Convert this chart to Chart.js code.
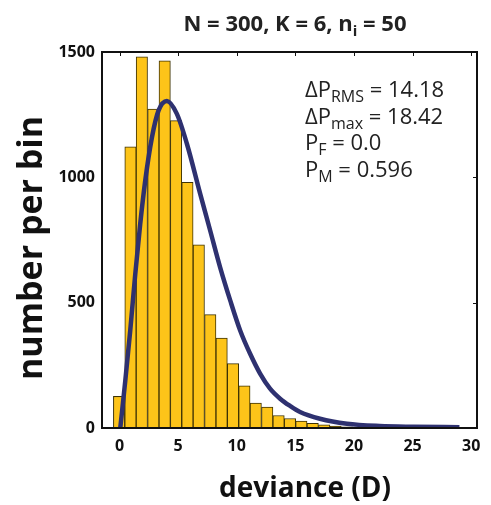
<!DOCTYPE html>
<html>
<head>
<meta charset="utf-8">
<script src="https://cdn.jsdelivr.net/npm/chart.js@4"></script>
<style>
  html, body { margin: 0; padding: 0; background: #fff; }
  #wrap { width: 491px; height: 505px; }
</style>
</head>
<body>
<div id="wrap"><canvas id="devianceChart"></canvas></div>
<script>
// histogram bins (deviance) and counts
const binCenters = [-0.04, 0.93, 1.90, 2.88, 3.85, 4.82, 5.79, 6.76, 7.74, 8.71, 9.68, 10.65,
  11.62, 12.60, 13.57, 14.54, 15.51, 16.48, 17.46, 18.43, 19.40, 20.37, 21.34, 22.32, 23.29];
const binCounts = [126, 1122, 1481, 1272, 1465, 1226, 980, 731, 452, 359, 257, 168,
  99, 83, 50, 38, 28, 19, 13, 8, 5, 3, 2, 1, 1];

// fitted curve
const fitX = [0.06, 0.49, 0.91, 1.34, 1.76, 2.19, 2.76, 3.32, 4.04, 4.89, 5.75, 6.88, 7.73,
  8.58, 9.44, 10.29, 11.14, 11.99, 12.84, 13.7, 14.55, 15.4, 17.1, 19.4, 22.2, 25.1, 29.0];
const fitY = [0, 190, 389, 615, 814, 987, 1159, 1266, 1305, 1253, 1133, 934, 788,
  641, 509, 389, 296, 217, 157, 117, 88, 64, 37, 17, 8, 5, 3];

const xTicks = [0, 5, 10, 15, 20, 25, 30];
const yTicks = [0, 500, 1000, 1500];

const statLines = [
  ["\u0394P", "RMS", " = 14.18"],
  ["\u0394P", "max", " = 18.42"],
  ["P", "F", " = 0.0"],
  ["P", "M", " = 0.596"]
];

const FONT = "'Open Sans', 'DejaVu Sans', sans-serif";

function drawSub(ctx, parts, x, y, mainFont, subFont, drop) {
  ctx.font = mainFont;
  ctx.fillText(parts[0], x, y);
  x += ctx.measureText(parts[0]).width;
  ctx.font = subFont;
  ctx.fillText(parts[1], x, y + drop);
  x += ctx.measureText(parts[1]).width;
  ctx.font = mainFont;
  ctx.fillText(parts[2], x, y);
}

function subWidth(ctx, parts, mainFont, subFont) {
  ctx.font = mainFont;
  let w = ctx.measureText(parts[0]).width + ctx.measureText(parts[2]).width;
  ctx.font = subFont;
  return w + ctx.measureText(parts[1]).width;
}

const frame = {
  id: "frame",
  afterDatasetsDraw(chart) {
    const { ctx, chartArea: a, scales: { x, y } } = chart;
    ctx.save();
    ctx.strokeStyle = "#111";
    ctx.lineWidth = 1;
    ctx.beginPath();
    xTicks.forEach(v => {
      const px = Math.round(x.getPixelForValue(v)) + 0.5;
      ctx.moveTo(px, a.top);
      ctx.lineTo(px, a.top + 4);
    });
    yTicks.forEach(v => {
      const py = Math.round(y.getPixelForValue(v)) + 0.5;
      ctx.moveTo(a.right, py);
      ctx.lineTo(a.right - 4, py);
    });
    ctx.stroke();
    ctx.lineWidth = 2;
    ctx.strokeRect(a.left, a.top, a.right - a.left, a.bottom - a.top);

    // title
    ctx.fillStyle = "#222";
    ctx.textBaseline = "alphabetic";
    ctx.textAlign = "left";
    const tParts = ["N = 300, K = 6, n", "i", " = 50"];
    const tMain = "bold 22px " + FONT, tSub = "bold 15px " + FONT;
    const tw = subWidth(ctx, tParts, tMain, tSub);
    drawSub(ctx, tParts, 295 - tw / 2, 31, tMain, tSub, 5);

    // stats
    const sMain = "22px " + FONT, sSub = "16px " + FONT;
    statLines.forEach((p, i) => {
      drawSub(ctx, p, 305, 97 + i * 26.7, sMain, sSub, 5);
    });

    // axis labels
    ctx.fillStyle = "#111";
    ctx.font = "bold 28px " + FONT;
    ctx.textAlign = "center";
    ctx.textBaseline = "middle";
    ctx.fillText("deviance (D)", 305, 489);
    ctx.save();
    ctx.translate(32, 248);
    ctx.rotate(-Math.PI / 2);
    ctx.font = "bold 34px " + FONT;
    ctx.fillText("number per bin", 0, 0);
    ctx.restore();
    ctx.restore();
  }
};

new Chart(document.getElementById("devianceChart"), {
  data: {
    datasets: [{
      type: "line",
      label: "fit",
      data: fitX.map((v, i) => ({ x: v, y: fitY[i] })),
      borderColor: "#2e3170",
      borderWidth: 4.5,
      pointRadius: 0,
      cubicInterpolationMode: "monotone",
      order: 0
    }, {
      type: "bar",
      label: "counts",
      data: binCenters.map((v, i) => ({ x: v, y: binCounts[i] })),
      backgroundColor: "#fdc419",
      borderColor: "#3d3205",
      borderWidth: 1,
      barPercentage: 1,
      categoryPercentage: 1,
      order: 1
    }]
  },
  options: {
    responsive: true,
    maintainAspectRatio: false,
    animation: false,
    layout: { padding: { top: 52, right: 14, left: 0, bottom: 0 } },
    plugins: {
      legend: { display: false },
      tooltip: { enabled: false }
    },
    scales: {
      x: {
        type: "linear",
        offset: false,
        min: -1.5,
        max: 30.5,
        afterBuildTicks: s => { s.ticks = xTicks.map(v => ({ value: v })); },
        afterFit: s => { s.height = 77; },
        grid: { display: false, drawTicks: false, offset: false },
        border: { display: false },
        ticks: { color: "#111", padding: 9, callback: v => String(v), font: { family: FONT, size: 16, weight: "bold" } }
      },
      y: {
        min: 0,
        max: 1500,
        afterBuildTicks: s => { s.ticks = yTicks.map(v => ({ value: v })); },
        afterFit: s => { s.width = 102; },
        grid: { display: false, drawTicks: false },
        border: { display: false },
        ticks: { color: "#111", padding: 7, callback: v => String(v), font: { family: FONT, size: 16, weight: "bold" } }
      }
    }
  },
  plugins: [frame]
});
</script>
</body>
</html>
